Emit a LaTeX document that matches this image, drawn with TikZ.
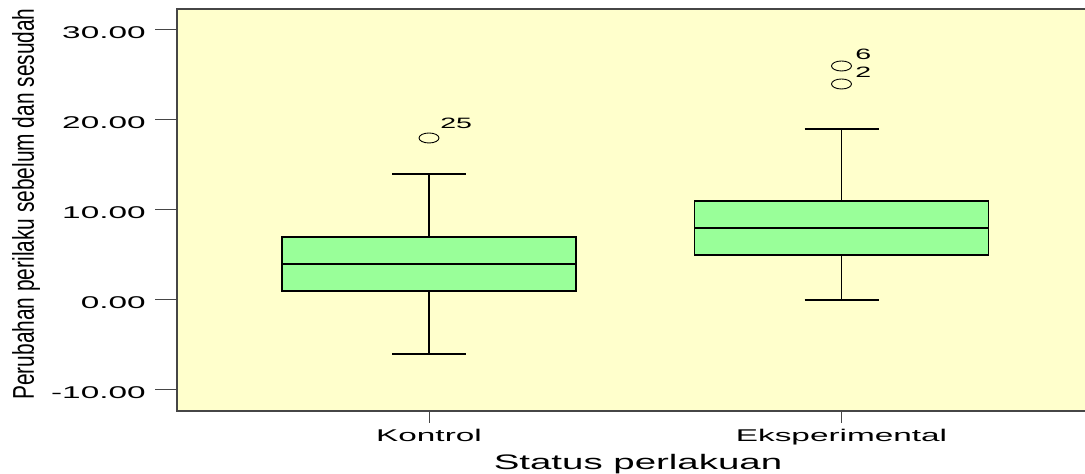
\documentclass[tikz,border=0pt]{standalone}
\usepackage{fontspec}
\setmainfont{Liberation Sans}
\definecolor{plotbg}{RGB}{255,255,204}
\definecolor{boxfill}{RGB}{153,255,153}
\definecolor{framegray}{RGB}{70,70,70}
\tikzset{
    ticklab/.style={font=\fontsize{17}{20}\selectfont, xscale=1.96, inner sep=0pt},
    outlab/.style={font=\fontsize{15}{18}\selectfont, xscale=1.9, inner sep=0pt},
    axtitle/.style={font=\fontsize{21}{24}\selectfont, xscale=1.83, inner sep=0pt},
    ytitle/.style={font=\fontsize{30}{33}\selectfont, rotate=90, xscale=0.696, inner sep=0pt},
    whisker/.style={black, line width=1.6pt},
    boxstyle/.style={draw=black, fill=boxfill, line width=1.4pt},
    outlier/.style={draw=black, line width=0.9pt, ellipse, minimum width=20pt, minimum height=10pt, inner sep=0pt}
}
\usetikzlibrary{shapes.geometric}
\begin{document}
\begin{tikzpicture}[x=1pt, y=9pt]
    \useasboundingbox (0,33.333) rectangle (1085,-19.333);
    \fill[plotbg] (177,32.333) rectangle (1090,-12.333);
    \draw[framegray, line width=1.5pt] (1090,32.333) -- (177,32.333) -- (177,-12.333) -- (1090,-12.333);

    % y axis
    \foreach \v [count=\i] in {-10,0,10,20,30} {
        \draw[framegray, line width=1pt] (155,\v) -- (177,\v);
        \node[ticklab, anchor=east] (ylab\i) at (146,\v-0.28) {\v.00};
    }
    \node[ytitle, anchor=base] (ytitle) at (34,10.667) {Perubahan perilaku sebelum dan sesudah};

    % x axis
    \foreach \cx/\grp in {429/Kontrol, 841.5/Eksperimental} {
        \draw[framegray, line width=1pt] (\cx,-12.333) -- (\cx,-13.667);
        \node[ticklab, anchor=base] (lab\grp) at (\cx,-15.67) {\grp};
    }
    \node[axtitle, anchor=base] (xtitle) at (638,-18.78) {Status perlakuan};

    % boxes
    \foreach \cx/\lo/\qa/\md/\qb/\hi in {429/-6/1/4/7/14, 841.5/0/5/8/11/19} {
        \draw[whisker] (\cx,\hi) -- (\cx,\qb) (\cx,\qa) -- (\cx,\lo);
        \draw[whisker] (\cx-37,\hi) -- (\cx+37,\hi) (\cx-37,\lo) -- (\cx+37,\lo);
        \draw[boxstyle] (\cx-147,\qa) rectangle (\cx+147,\qb);
        \draw[whisker] (\cx-147,\md) -- (\cx+147,\md);
    }

    % outliers
    \node[outlier] (out25) at (429,18) {};
    \node[outlier] (out6) at (841.5,26) {};
    \node[outlier] (out2) at (841.5,24) {};
    \node[outlab, anchor=base west] (lab25) at (440,19) {25};
    \node[outlab, anchor=base west] (lab6) at (855,26.667) {6};
    \node[outlab, anchor=base west] (lab2) at (855,24.667) {2};
\end{tikzpicture}
\end{document}
